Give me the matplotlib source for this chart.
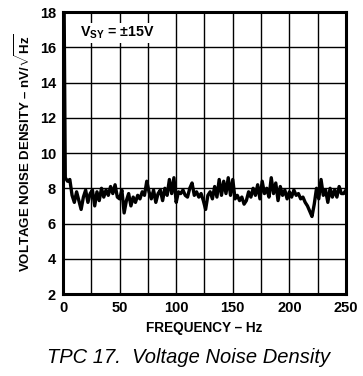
import matplotlib
matplotlib.use("Agg")
import matplotlib.pyplot as plt

# Voltage noise density vs frequency
freq = [1, 2] + list(range(4, 251, 2))
noise = [18.0, 8.6,
         8.4, 8.5, 7.6, 7.2, 7.8, 7.3, 6.8, 7.5, 7.9, 7.2,
         7.7, 7.9, 7.0, 7.8, 7.3, 8.0, 7.5, 7.9, 7.6, 8.1,
         7.7, 8.2, 7.5, 7.4, 7.9, 6.6, 7.3, 7.7, 7.0, 7.5,
         7.2, 7.6, 7.4, 7.8, 7.6, 8.4, 7.8, 7.4, 7.9, 7.2,
         7.7, 7.9, 7.3, 8.0, 7.6, 8.5, 7.7, 8.6, 7.2, 7.8,
         7.7, 7.9, 7.6, 7.5, 8.0, 8.3, 7.6, 7.8, 7.5, 7.7,
         7.3, 6.8, 7.6, 7.8, 7.4, 8.1, 7.5, 8.5, 7.6, 8.4,
         7.7, 8.6, 7.6, 8.5, 7.4, 7.6, 7.3, 7.5, 7.1, 7.3,
         7.8, 7.5, 8.0, 7.6, 8.2, 7.4, 8.4, 7.7, 8.0, 7.5,
         8.6, 7.7, 8.3, 7.3, 8.1, 7.6, 7.9, 7.4, 7.8, 7.5,
         7.9, 7.6, 7.7, 7.4, 7.5, 7.2, 7.0, 6.7, 6.4, 7.1,
         8.0, 7.4, 8.5, 7.6, 7.9, 7.2, 8.0, 7.5, 7.9, 7.5,
         8.1, 7.7, 7.7, 7.9]

xticks = [0, 50, 100, 150, 200, 250]
yticks = [2, 4, 6, 8, 10, 12, 14, 16, 18]

plt.rcParams["font.family"] = ["Liberation Sans", "DejaVu Sans"]
plt.rcParams["mathtext.fontset"] = "custom"
plt.rcParams["mathtext.rm"] = "Liberation Sans"
plt.rcParams["mathtext.bf"] = "Liberation Sans:bold"

fig = plt.figure(figsize=(3.63, 3.76), dpi=100)
ax = fig.add_axes([0.1736, 0.218, 0.7794, 0.750])

ax.plot(freq, noise, color="black", linewidth=2.4)

ax.set_xlim(0, 250)
ax.set_ylim(2, 18)
ax.set_xticks(list(range(0, 251, 25)))
ax.set_xticklabels([str(v) if v in xticks else "" for v in range(0, 251, 25)],
                   fontsize=10.5, fontweight="bold")
ax.set_yticks(yticks)
ax.set_yticklabels([str(v) for v in yticks], fontsize=10.5, fontweight="bold")
ax.tick_params(length=0, pad=5)
ax.grid(True, color="black", linewidth=1.0)
for s in ax.spines.values():
    s.set_linewidth(2.2)

ax.set_xlabel("FREQUENCY – Hz", fontsize=9.8, fontweight="bold", labelpad=4)
ax.set_ylabel(r"VOLTAGE NOISE DENSITY – nV/$\sqrt{\mathbf{Hz}}$",
              fontsize=9.5, fontweight="bold", labelpad=5)

ax.text(0.06, 0.955, r"$\mathbf{V_{SY}}$ = ±15V", transform=ax.transAxes,
        fontsize=10.3, fontweight="bold", va="top", ha="left",
        bbox=dict(facecolor="white", edgecolor="none", pad=1))

fig.text(0.52, 0.05, "TPC 17.  Voltage Noise Density", fontsize=14.5,
         style="italic", ha="center", va="center")

fig.savefig("out.png", dpi=100)
